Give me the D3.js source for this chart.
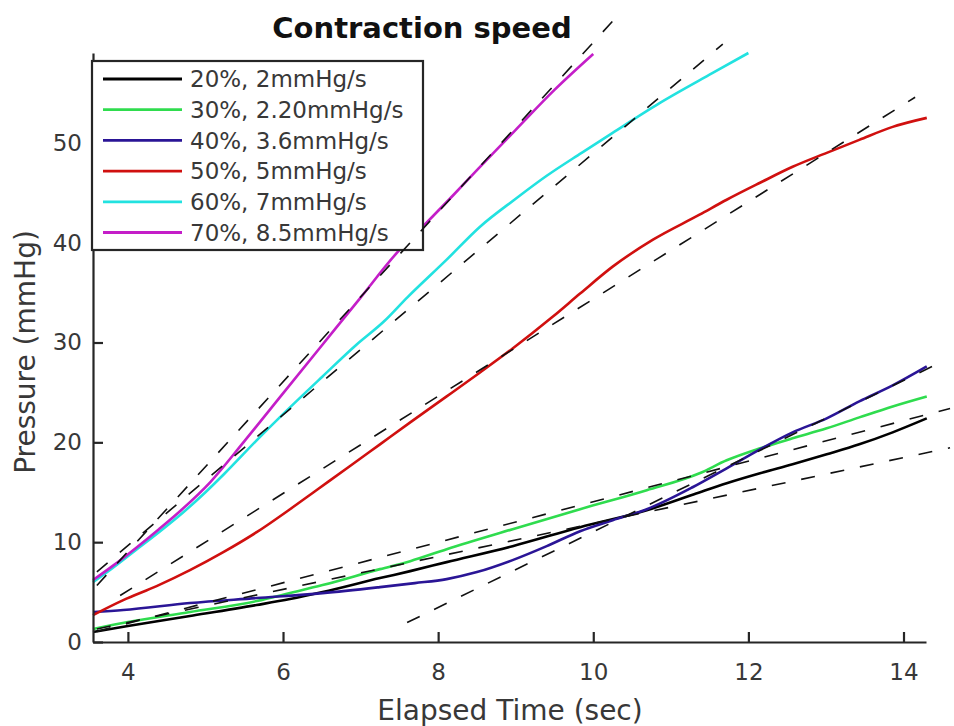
<!DOCTYPE html>
<html>
<head>
<meta charset="utf-8">
<script src="https://cdn.jsdelivr.net/npm/d3@7"></script>
<style>
  body { margin: 0; background: #fff; }
  svg { display: block; }
  text { font-family: "DejaVu Sans", sans-serif; }
</style>
</head>
<body>
<div id="chart"></div>
<script>
// series labels (legend order)
const labels = ['20%, 2mmHg/s', '30%, 2.20mmHg/s', '40%, 3.6mmHg/s', '50%, 5mmHg/s', '60%, 7mmHg/s', '70%, 8.5mmHg/s']
const colors = ['#000000', '#2fdc4e', '#2a1596', '#d0100f', '#22e2e0', '#c41ec8']

// measured pressure traces (time in sec, pressure in mmHg)
const time20 = [3.55, 4.0, 4.8, 5.66, 6.09, 6.51, 7.25, 7.64, 8.11, 8.96, 9.83, 10.69, 11.3, 11.72, 12.15, 12.57, 13.01, 13.43, 13.86, 14.3]
const pres20 = [1.0, 1.6, 2.6, 3.7, 4.3, 5.0, 6.4, 7.1, 8.0, 9.6, 11.5, 13.2, 14.8, 15.9, 16.9, 17.8, 18.8, 19.8, 21.0, 22.4]

const time30 = [3.55, 4.0, 4.8, 5.66, 6.09, 6.51, 7.25, 7.64, 8.11, 8.96, 9.83, 10.69, 11.37, 11.72, 12.15, 12.57, 13.01, 13.43, 13.86, 14.3]
const pres30 = [1.3, 2.0, 3.0, 4.1, 4.9, 5.7, 7.3, 8.1, 9.3, 11.3, 13.3, 15.2, 16.9, 18.2, 19.4, 20.4, 21.4, 22.5, 23.6, 24.6]

const time40 = [3.55, 3.94, 4.8, 5.66, 6.51, 7.25, 7.7, 8.11, 8.5, 8.96, 9.4, 9.83, 10.25, 10.69, 11.28, 11.72, 12.15, 12.57, 13.01, 13.43, 13.86, 14.3]
const pres40 = [3.0, 3.2, 3.9, 4.4, 4.9, 5.5, 5.9, 6.3, 7.0, 8.2, 9.6, 11.1, 12.2, 13.3, 15.5, 17.4, 19.3, 21.0, 22.4, 24.1, 25.7, 27.6]

const time50 = [3.55, 3.94, 4.37, 4.8, 5.23, 5.66, 6.09, 6.43, 6.86, 7.25, 7.64, 8.11, 8.54, 8.96, 9.48, 9.83, 10.25, 10.77, 11.37, 11.72, 12.15, 12.57, 13.01, 13.43, 13.86, 14.3]
const pres50 = [2.7, 4.2, 5.6, 7.2, 9.0, 11.0, 13.3, 15.2, 17.6, 19.8, 22.0, 24.6, 27.0, 29.4, 32.6, 34.9, 37.6, 40.3, 42.8, 44.3, 46.0, 47.6, 49.0, 50.3, 51.6, 52.5]

const time60 = [3.55, 3.8, 4.1, 4.4, 4.7, 5.0, 5.25, 5.66, 6.09, 6.51, 6.95, 7.3, 7.6, 8.11, 8.54, 9.0, 9.4, 9.85, 10.25, 10.86, 11.54, 12.0]
const pres60 = [6.0, 7.4, 9.2, 11.0, 12.9, 15.0, 16.9, 20.2, 23.5, 26.6, 29.8, 32.1, 34.5, 38.3, 41.6, 44.4, 46.7, 49.0, 51.0, 54.0, 57.0, 59.0]

const time70 = [3.55, 3.8, 4.1, 4.4, 4.7, 5.06, 5.5, 6.0, 6.5, 7.0, 7.47, 7.8, 8.2, 8.54, 9.0, 9.5, 10.0]
const pres70 = [6.2, 7.6, 9.4, 11.3, 13.3, 16.0, 20.1, 24.9, 29.7, 34.5, 39.0, 41.6, 44.8, 47.6, 51.3, 55.3, 58.9]

// linear fits (pressure = slope * t + offset), drawn from fitFrom to fitTo
const fitSlope = [1.65, 2.03, 3.79, 4.87, 6.55, 8.5]
const fitOffset = [-4.63, -6.25, -26.86, -14.34, -16.55, -24.94]
const fitFrom = [3.6, 3.6, 7.6, 3.9, 3.6, 3.6]
const fitTo = [14.6, 14.6, 14.5, 14.15, 11.67, 10.38]

const xTicks = [4, 6, 8, 10, 12, 14]
const yTicks = [0, 10, 20, 30, 40, 50]

const times = [time20, time30, time40, time50, time60, time70]
const pressures = [pres20, pres30, pres40, pres50, pres60, pres70]

const width = 954
const height = 726
const axisColor = '#262626'

const x = d3.scaleLinear().domain([3.55, 14.29]).range([93, 926])
const y = d3.scaleLinear().domain([0, 59]).range([642, 53])

const svg = d3.select('#chart').append('svg')
  .attr('width', width)
  .attr('height', height)

const line = d3.line()
  .x(d => x(d[0]))
  .y(d => y(d[1]))
  .curve(d3.curveMonotoneX)

// measured curves
times.forEach((ts, i) => {
  const pts = ts.map((t, j) => [t, pressures[i][j]])
  svg.append('path')
    .datum(pts)
    .attr('d', line)
    .attr('fill', 'none')
    .attr('stroke', colors[i])
    .attr('stroke-width', 2.6)
    .attr('stroke-linejoin', 'round')
})

// axes
const xAxis = svg.append('g')
  .attr('transform', `translate(0,${y(0)})`)
  .call(d3.axisBottom(x).tickValues(xTicks).tickSizeInner(-10).tickSizeOuter(0).tickPadding(22))
const yAxis = svg.append('g')
  .attr('transform', `translate(${x.range()[0]},0)`)
  .call(d3.axisLeft(y).tickValues(yTicks).tickSizeInner(-10).tickSizeOuter(0).tickPadding(11))

;[xAxis, yAxis].forEach(g => {
  g.select('.domain').attr('stroke', axisColor).attr('stroke-width', 2.2)
  g.selectAll('.tick line').attr('stroke', axisColor).attr('stroke-width', 2.2)
  g.selectAll('.tick text')
    .attr('fill', '#383838')
    .style('font-size', '23px')
    .style('font-family', '"DejaVu Sans", sans-serif')
})

// legend
const legend = svg.append('g')
legend.append('rect')
  .attr('x', 92).attr('y', 61)
  .attr('width', 331).attr('height', 189)
  .attr('fill', '#fff')
  .attr('stroke', axisColor)
  .attr('stroke-width', 2.2)

labels.forEach((lab, i) => {
  const cy = 79 + i * 30.7
  legend.append('line')
    .attr('x1', 103).attr('x2', 182)
    .attr('y1', cy).attr('y2', cy)
    .attr('stroke', colors[i])
    .attr('stroke-width', 2.8)
  legend.append('text')
    .attr('x', 190).attr('y', cy)
    .attr('dy', '0.36em')
    .attr('fill', '#383838')
    .style('font-size', '23px')
    .text(lab)
})

// fitted lines (dashed, not clipped to the axes)
fitSlope.forEach((s, i) => {
  const pts = [fitFrom[i], fitTo[i]].map(t => [t, s * t + fitOffset[i]])
  svg.append('path')
    .datum(pts)
    .attr('d', d3.line().x(d => x(d[0])).y(d => y(d[1])))
    .attr('fill', 'none')
    .attr('stroke', '#111')
    .attr('stroke-width', 1.6)
    .attr('stroke-dasharray', '14,16')
})

// title and axis labels
svg.append('text')
  .attr('x', 422).attr('y', 38)
  .attr('text-anchor', 'middle')
  .attr('fill', '#111')
  .style('font-size', '29px')
  .style('font-weight', 'bold')
  .text('Contraction speed')

svg.append('text')
  .attr('x', 510).attr('y', 720)
  .attr('text-anchor', 'middle')
  .attr('fill', '#383838')
  .style('font-size', '28px')
  .text('Elapsed Time (sec)')

svg.append('text')
  .attr('transform', 'translate(35,352) rotate(-90)')
  .attr('text-anchor', 'middle')
  .attr('fill', '#383838')
  .style('font-size', '28px')
  .text('Pressure (mmHg)')
</script>
</body>
</html>
